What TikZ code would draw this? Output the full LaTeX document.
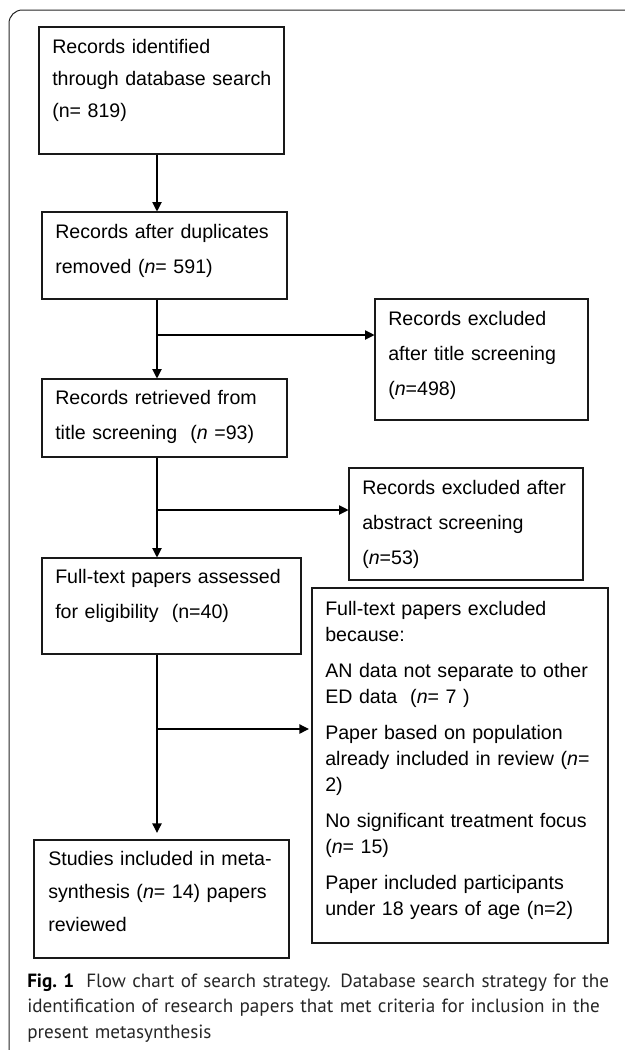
\documentclass[tikz,border=0pt]{standalone}
\usepackage{fontspec}
\setmainfont{Liberation Sans}
\newfontfamily\capfont{PT Sans}
\usetikzlibrary{arrows.meta,fit,calc}
\begin{document}
\begin{tikzpicture}[x=0.75pt,y=-0.75pt,
  box/.style={draw=black!90, line width=0.8pt, inner sep=0pt},
  txt/.style={inner sep=0pt, anchor=base west, align=left, text=black,
    font=\fontsize{14.7pt}{26.25pt}\selectfont},
  arr/.style={draw=black, line width=0.8pt, -{Triangle[length=7pt,width=7pt]}},
  outerframe/.style={draw=black!85, line width=0.75pt, rounded corners=10pt},
  captxt/.style={inner sep=0pt, anchor=base west, align=left, text=black!85,
    text width=440pt, font=\capfont\fontsize{14.35pt}{19.2pt}\selectfont}]
\useasboundingbox (0,0) rectangle (625,1050);
% outer frame
\draw[outerframe] (9,1050) -- (9,10) -- (625,10);
% boxes
\node[box, fit={(39,27) (284,154)}] (b1) {};
\node[box, fit={(42,212) (287,299)}] (b2) {};
\node[box, fit={(375,299) (588,420)}] (b3) {};
\node[box, fit={(42,379) (287,457)}] (b4) {};
\node[box, fit={(349,468) (583,580)}] (ab) {};
\node[box, fit={(42,558) (301,654)}] (b5) {};
\node[box, fit={(312,588) (608,943)}] (b6) {};
\node[box, fit={(34,840) (289,958)}] (b7) {};
% texts
\node[txt, text width=168pt, font=\fontsize{14.7pt}{24pt}\selectfont] (t1) at (52,53)
  {Records identified\\through database search\\(n= 819)};
\node[txt, text width=170pt] (t2) at (55,238)
  {Records after duplicates\\removed (\textit{n}= 591)};
\node[txt, text width=145pt] (t3) at (388,325)
  {Records excluded\\after title screening\\(\textit{n}=498)};
\node[txt, text width=170pt] (t4) at (55,404)
  {Records retrieved from\\title screening~ (\textit{n} =93)};
\node[txt, text width=160pt] (tab) at (362,494)
  {Records excluded after\\abstract screening\\(\textit{n}=53)};
\node[txt, text width=180pt] (t5) at (55,583)
  {Full-text papers assessed\\for eligibility~ (n=40)};
\node[txt, text width=208pt, font=\fontsize{14.7pt}{19.5pt}\selectfont] (t6) at (325,615)
  {Full-text papers excluded\\because:\\[7.5pt]
   AN data not separate to other\\ED data~ (\textit{n}= 7 )\\[7.5pt]
   Paper based on population\\already included in review (\textit{n}=\\2)\\[7.5pt]
   No significant treatment focus\\(\textit{n}= 15)\\[7.5pt]
   Paper included participants\\under 18 years of age (n=2)};
\node[txt, text width=176pt, font=\fontsize{14.7pt}{25.1pt}\selectfont] (t7) at (48,865)
  {Studies included in meta-\\synthesis (\textit{n}= 14) papers\\reviewed};
% caption
\node[captxt] (capt) at (27,987)
  {\mbox{\textbf{\color{black}Fig.~1}\hspace{9pt}Flow chart of search strategy. Database search strategy for the}\\
   \mbox{identification of research papers that met criteria for inclusion in the}\\
   \mbox{present metasynthesis}};
% connectors
\coordinate (spine) at (157,0);
\coordinate (j1) at (157,335);
\coordinate (j2) at (157,510);
\coordinate (j3) at (157,729);
\draw[arr] (b1.south -| spine) -- (b2.north -| spine);
\draw[arr] (b2.south -| spine) -- (b4.north -| spine);
\draw[arr] (j1) -- (j1 -| b3.west);
\draw[arr] (b4.south -| spine) -- (b5.north -| spine);
\draw[arr] (j2) -- (j2 -| ab.west);
\draw[arr, shorten >=5pt] (b5.south -| spine) -- (b7.north -| spine);
\draw[arr, shorten >=2pt] (j3) -- (j3 -| b6.west);
\end{tikzpicture}
\end{document}
